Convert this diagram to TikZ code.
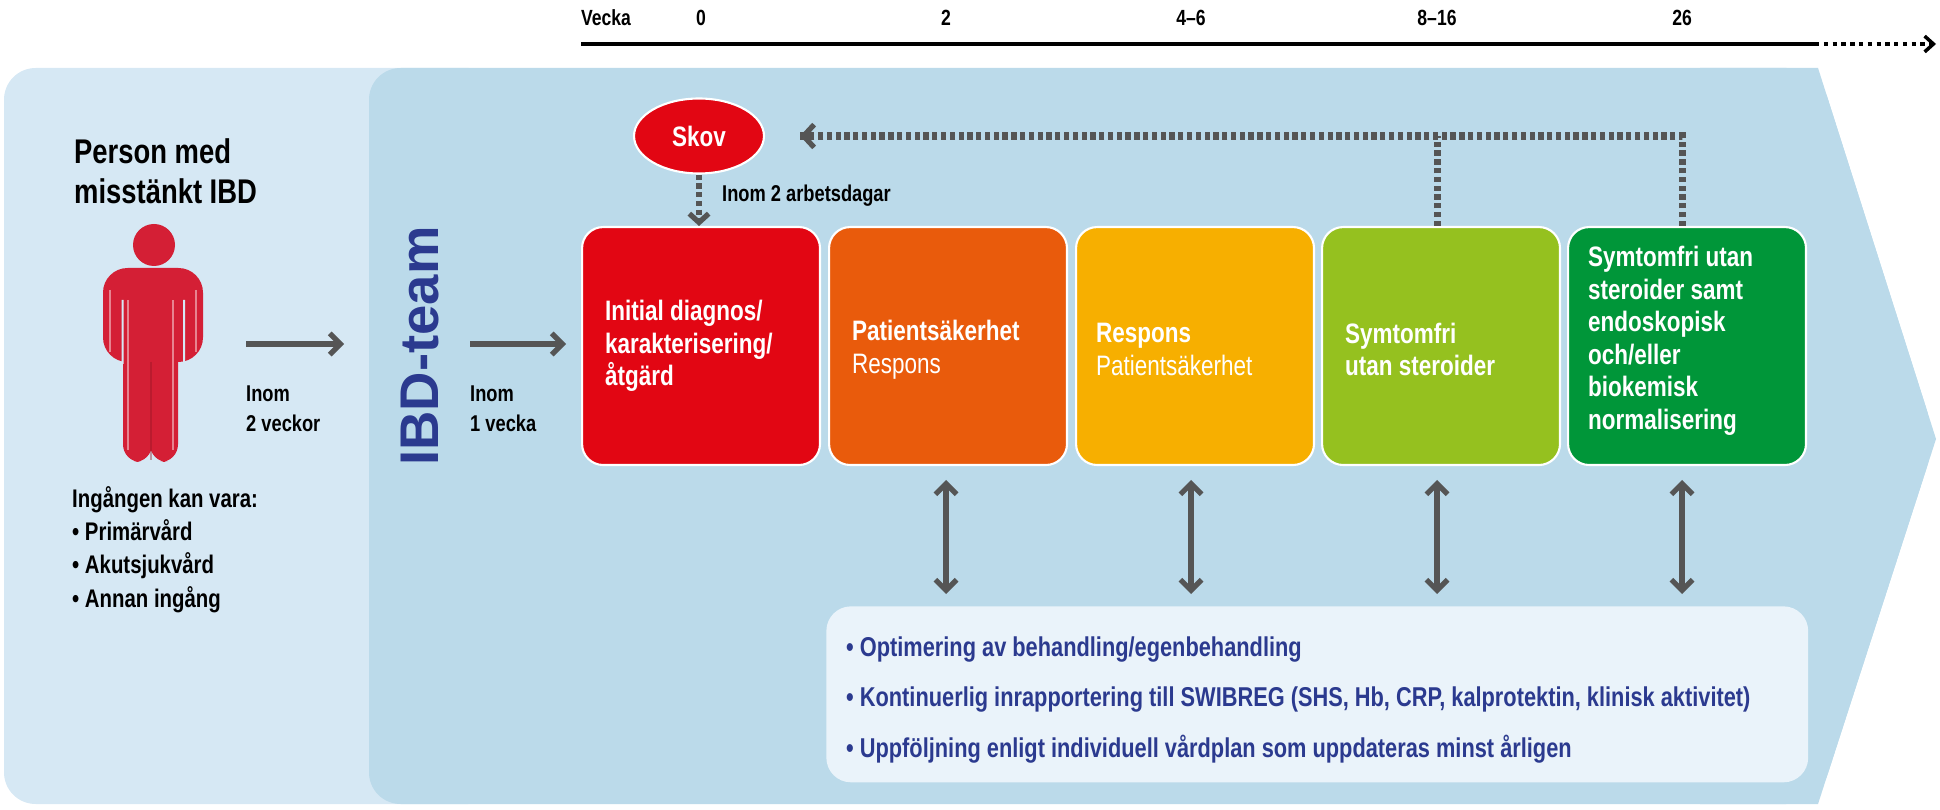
\documentclass[tikz,border=0pt]{standalone}
\usepackage{fontspec}
\setmainfont{Liberation Sans}[FakeStretch=0.8]
\newfontfamily\widefont{Liberation Sans}
\usetikzlibrary{arrows.meta,shapes.geometric}
\definecolor{lpanel}{HTML}{D6E8F4}
\definecolor{dpanel}{HTML}{BBDAEA}
\definecolor{cred}{HTML}{E20613}
\definecolor{corange}{HTML}{E95B0C}
\definecolor{cyellow}{HTML}{F7AF00}
\definecolor{clime}{HTML}{95C11F}
\definecolor{cgreen}{HTML}{009639}
\definecolor{cgray}{HTML}{555555}
\definecolor{cblue}{HTML}{2B3A8F}
\definecolor{fig}{HTML}{D41F35}
\definecolor{note}{HTML}{EAF3FA}
\begin{document}
\begin{tikzpicture}[x=0.02cm,y=-0.02cm,
  box/.style={draw=white,line width=1.2pt,rounded corners=12pt,minimum width=4.76cm,minimum height=4.76cm,anchor=north west,inner sep=0pt},
  btxt/.style={anchor=west,align=left,text=white,font=\fontsize{16}{18.5}\selectfont\bfseries},
  arr/.style={cgray,line width=3pt,-{Straight Barb[length=6pt,width=12pt]}},
  darr/.style={cgray,line width=3pt,{Straight Barb[length=6pt,width=12pt]}-{Straight Barb[length=6pt,width=12pt]}},
  dots/.style={cgray,line width=4pt,dash pattern=on 3pt off 2pt},
  lbl/.style={anchor=north west,align=left,font=\fontsize{13}{17}\selectfont\bfseries},
  tick/.style={font=\fontsize{12.5}{14}\selectfont\bfseries}]
\useasboundingbox (0,0) rectangle (1940,810);
% panels
\fill[lpanel,rounded corners=18pt] (4,68) rectangle (500,804);
\fill[dpanel,rounded corners=18pt] (369,68) -- (1818,68) -- (1936,439) -- (1818,804) -- (369,804) -- cycle;
\fill[dpanel] (1700,68) -- (1818,68) -- (1936,439) -- (1818,804) -- (1700,804) -- cycle;
% timeline
\node[tick] (vecka) at (606,18) {Vecka};
\node[tick] (t0) at (701,18) {0};
\node[tick] (t2) at (946,18) {2};
\node[tick] (t4) at (1191,18) {4–6};
\node[tick] (t8) at (1437,18) {8–16};
\node[tick] (t26) at (1682,18) {26};
\coordinate (ls) at (581,44);
\coordinate (lm) at (1815,44);
\coordinate (le) at (1936,44);
\draw[line width=2.2pt] (ls) -- (lm);
\draw[line width=2pt,dash pattern=on 2.5pt off 2.5pt,-{Straight Barb[length=5pt,width=9pt]}] (lm) -- (le);
% person
\node[lbl,font=\fontsize{19.5}{23}\selectfont\bfseries] (person) at (68,132) {Person med\\misstänkt IBD};
\fill[fig] (154,245) circle (21);
\fill[fig,rounded corners=14pt] (103,268) rectangle (203,362);
\fill[fig,rounded corners=10pt] (123,300) rectangle (152,462);
\fill[fig,rounded corners=10pt] (150,300) rectangle (178,462);
\fill[lpanel] (121.5,300) rectangle (123.5,364) (183,300) rectangle (185,364);
\draw[white,opacity=0.45,line width=0.8pt] (110,290)--(110,352) (196,290)--(196,352) (128,300)--(128,450) (173,300)--(173,450);
\draw[fig!70!black,opacity=0.4,line width=0.8pt] (151,362)--(151,460);
\node[anchor=north west,align=left,font=\fontsize{14.5}{19}\selectfont\bfseries] (ing) at (66,480) {Ingången kan vara:\\• Primärvård\\• Akutsjukvård\\• Annan ingång};
% arrows 1 & 2
\coordinate (a1s) at (246,344); \coordinate (a1e) at (344,344);
\draw[arr] (a1s) -- (a1e);
\node[lbl] (in1) at (240,380) {Inom\\2 veckor};
\node[rotate=90,text=cblue,font=\widefont\fontsize{31}{31}\selectfont\bfseries] (team) at (420,346) {IBD-team};
\coordinate (a2s) at (470,344); \coordinate (a2e) at (566,344);
\draw[arr] (a2s) -- (a2e);
\node[lbl] (in2) at (464,380) {Inom\\1 vecka};
% boxes
\node[box,fill=cred] (b1) at (581,226) {};
\node[box,fill=corange] (b2) at (828,226) {};
\node[box,fill=cyellow] (b3) at (1075,226) {};
\node[box,fill=clime] (b4) at (1321,226) {};
\node[box,fill=cgreen] (b5) at (1567,226) {};
\node[btxt] at ([xshift=18*0.02cm]b1.west) {Initial diagnos/\\karakterisering/\\åtgärd};
\node[btxt] at ([xshift=18*0.02cm,yshift=-2pt]b2.west) {Patientsäkerhet\\\mdseries Respons};
\node[btxt] at ([xshift=15*0.02cm,yshift=-2pt]b3.west) {Respons\\\mdseries Patientsäkerhet};
\node[btxt] at ([xshift=18*0.02cm,yshift=-2pt]b4.west) {Symtomfri\\utan steroider};
\node[btxt,yshift=3pt] at ([xshift=15*0.02cm]b5.west) {Symtomfri utan\\steroider samt\\endoskopisk\\och/eller\\biokemisk\\normalisering};
% skov
\node[ellipse,draw=white,line width=1.2pt,fill=cred,minimum width=2.6cm,minimum height=1.5cm,text=white,font=\fontsize{16}{18}\selectfont\bfseries] (skov) at (699,136) {Skov};
\draw[dots,-{Straight Barb[length=5pt,width=11pt]},line width=3pt] (skov) -- (b1.north -| skov);
\node[lbl,anchor=west] (i2a) at (716,196) {Inom 2 arbetsdagar};
\coordinate (fb) at (1682,136);
\coordinate (fe) at (800,136);
\draw[dots] (b5.north -| fb) -- (fb) -- (fe);
\draw[cgray,line width=3pt,-{Straight Barb[length=6pt,width=13pt]}] (812,136) -- (fe);
\draw[dots] (b4.north -| t8) -- (t8 |- fb);
% note box
\node[fill=note,rounded corners=14pt,minimum width=19.64cm,minimum height=3.52cm,anchor=north west,inner sep=0pt] (nb) at (826,606) {};
\foreach \x in {946,1191,1437,1682}
  \draw[darr] (\x,480) -- (\x,594);
\tikzset{ntxt/.style={anchor=west,text=cblue,font=\fontsize{15.5}{18}\selectfont\bfseries}}
\node[ntxt] (n1) at (840,650) {• Optimering av behandling/egenbehandling};
\node[ntxt] (n2) at (840,700) {• Kontinuerlig inrapportering till SWIBREG (SHS, Hb, CRP, kalprotektin, klinisk aktivitet)};
\node[ntxt] (n3) at (840,749) {• Uppföljning enligt individuell vårdplan som uppdateras minst årligen};
\end{tikzpicture}
\end{document}
